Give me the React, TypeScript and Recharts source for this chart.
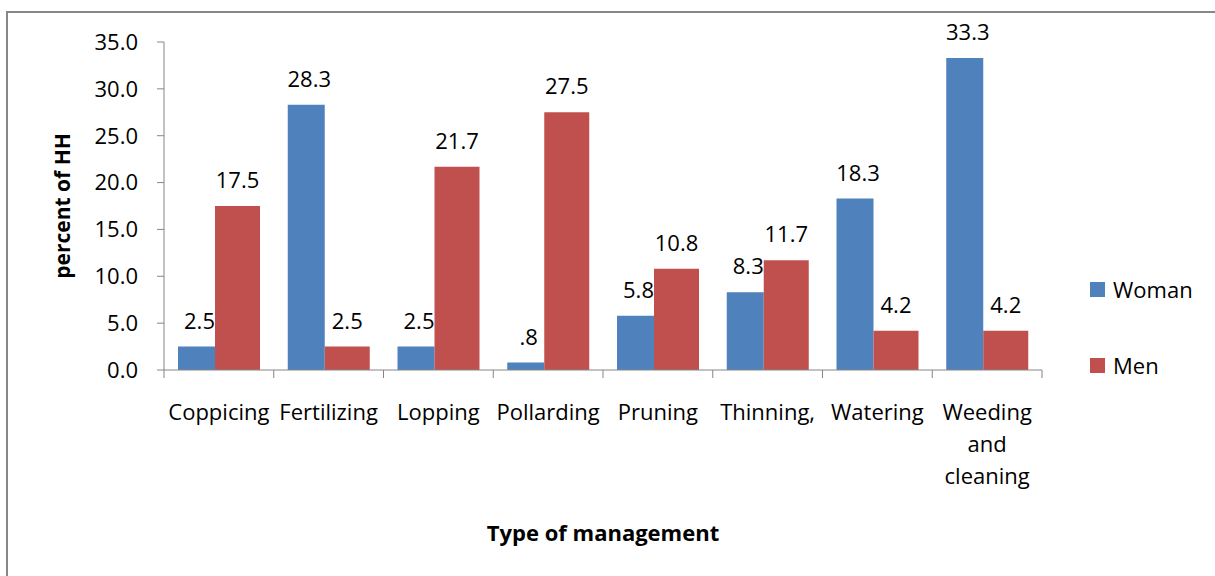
import { BarChart, Bar, XAxis, YAxis, LabelList } from "recharts";

const categories = [
  "Coppicing",
  "Fertilizing",
  "Lopping",
  "Pollarding",
  "Pruning",
  "Thinning,",
  "Watering",
  "Weeding and cleaning",
];
const womanValues = [2.5, 28.3, 2.5, 0.8, 5.8, 8.3, 18.3, 33.3];
const menValues = [17.5, 2.5, 21.7, 27.5, 10.8, 11.7, 4.2, 4.2];
const yTicks = [0, 5, 10, 15, 20, 25, 30, 35];

const data = categories.map((name, i) => ({
  name,
  woman: womanValues[i],
  men: menValues[i],
}));

const FONT = "'Open Sans', sans-serif";
const AXIS = "#868686";
const BLUE = "#4F81BD";
const RED = "#C0504D";

const series = [
  { key: "woman", name: "Woman", color: BLUE },
  { key: "men", name: "Men", color: RED },
];

// Excel-style labels: 0.8 -> ".8"
const fmtValue = (v: any) => Number(v).toFixed(1).replace(/^0\./, ".");

// Category tick: boundary tick marks plus word-wrapped label
function CategoryTick(props: any) {
  const { x, y, payload, index, width } = props;
  const band = (width || 878) / categories.length;
  const lines = String(payload.value).split(" ");
  const top = y - 8;
  return (
    <g>
      {index === 0 && (
        <line x1={x - band / 2} x2={x - band / 2} y1={top} y2={top + 8} stroke={AXIS} />
      )}
      <line x1={x + band / 2} x2={x + band / 2} y1={top} y2={top + 8} stroke={AXIS} />
      <text x={x} y={top} textAnchor="middle" fontFamily={FONT} fontSize={22} fill="#000">
        {lines.map((l, i) => (
          <tspan key={i} x={x} dy={i === 0 ? 50 : 32}>
            {l}
          </tspan>
        ))}
      </text>
    </g>
  );
}

function LegendBox() {
  return (
    <div
      style={{
        position: "absolute",
        left: 1090,
        top: 274,
        fontFamily: FONT,
        fontSize: 22,
        color: "#000",
      }}
    >
      {series.map((s, i) => (
        <div
          key={s.key}
          style={{ display: "flex", alignItems: "center", height: 30, marginBottom: i === 0 ? 46 : 0 }}
        >
          <span style={{ width: 15, height: 15, background: s.color, marginRight: 8 }} />
          <span>{s.name}</span>
        </div>
      ))}
    </div>
  );
}

export default function App() {
  return (
    <div
      style={{
        position: "absolute",
        left: 0,
        top: 0,
        width: 1215,
        height: 576,
        background: "#fff",
        overflow: "hidden",
      }}
    >
      <div
        style={{
          position: "absolute",
          left: 6,
          top: 11,
          width: 1300,
          height: 700,
          borderTop: "2px solid #878787",
          borderLeft: "2px solid #878787",
        }}
      />
      <BarChart
        width={1215}
        height={576}
        data={data}
        margin={{ top: 42, right: 173, bottom: 146, left: 64 }}
        barGap={0}
        style={{ position: "absolute", left: 0, top: 0 }}
      >
        <XAxis
          dataKey="name"
          height={60}
          axisLine={{ stroke: AXIS }}
          tickLine={false}
          tick={<CategoryTick />}
          interval={0}
          label={{
            content: (p: any) => {
              const vb = p.viewBox;
              return (
                <text
                  x={vb.x + vb.width / 2}
                  y={532}
                  textAnchor="middle"
                  dominantBaseline="central"
                  fontFamily={FONT}
                  fontSize={22}
                  fontWeight="bold"
                  fill="#000"
                >
                  Type of management
                </text>
              );
            },
          }}
        />
        <YAxis
          width={100}
          domain={[0, 35]}
          ticks={yTicks}
          interval={0}
          axisLine={{ stroke: AXIS }}
          tickLine={{ stroke: AXIS }}
          tickSize={7}
          tickMargin={19}
          tickFormatter={(v: number) => v.toFixed(1)}
          tick={{ fontFamily: FONT, fontSize: 22, fill: "#000" }}
          label={{
            content: (p: any) => {
              const vb = p.viewBox;
              const cx = 62;
              const cy = vb.y + vb.height / 2;
              return (
                <text
                  x={cx}
                  y={cy}
                  transform={`rotate(-90 ${cx} ${cy})`}
                  textAnchor="middle"
                  dominantBaseline="central"
                  fontFamily={FONT}
                  fontSize={21}
                  fontWeight="bold"
                  fill="#000"
                >
                  percent of HH
                </text>
              );
            },
          }}
        />
        <Bar dataKey="woman" name="Woman" fill={BLUE} barSize={37} isAnimationActive={false}>
          <LabelList
            dataKey="woman"
            position="top"
            offset={18}
            dx={3}
            formatter={fmtValue}
            fontFamily={FONT}
            fontSize={22}
            fill="#000"
          />
        </Bar>
        <Bar dataKey="men" name="Men" fill={RED} barSize={45} isAnimationActive={false}>
          <LabelList
            dataKey="men"
            position="top"
            offset={18}
            formatter={fmtValue}
            fontFamily={FONT}
            fontSize={22}
            fill="#000"
          />
        </Bar>
      </BarChart>
      <LegendBox />
    </div>
  );
}
